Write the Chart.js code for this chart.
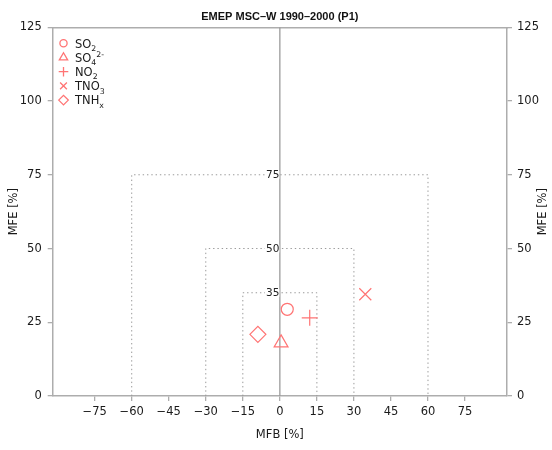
<!DOCTYPE html>
<html>
<head>
<meta charset="utf-8">
<script src="https://cdn.jsdelivr.net/npm/chart.js@4.4.1/dist/chart.umd.min.js"></script>
<style>
  html, body { margin: 0; padding: 0; background: #fff; }
  #wrap { width: 552px; height: 450px; }
</style>
</head>
<body>
<div id="wrap"><canvas id="canv"></canvas></div>
<script>
// MFB / MFE per species
var seriesNames = ['SO₂', 'SO₄²⁻', 'NO₂', 'TNO₃', 'TNHₓ'];
var seriesStyles = ['circle', 'triangle', 'cross', 'crossRot', 'rectRot'];
var seriesRadius = [6, 8, 8, 8.5, 8];
var mfbValues = [3.0, 0.5, 12.1, 34.6, -8.9];
var mfeValues = [29.4, 18.0, 26.5, 34.5, 20.9];

// goal / criteria boxes: MFE level and MFB half width
var goalLevels = [75, 50, 35];
var goalHalfWidths = [60, 30, 15];

var xTicks = [-75, -60, -45, -30, -15, 0, 15, 30, 45, 60, 75];
var yTicks = [0, 25, 50, 75, 100, 125];

var markColor = '#ff7474';
var axisColor = '#adadad';
var textColor = '#1a1a1a';
var baseFont = 'DejaVu Sans';

var datasets = [];
for (var i = 0; i < seriesNames.length; i++) {
  datasets.push({
    label: seriesNames[i],
    data: [{x: mfbValues[i], y: mfeValues[i]}],
    pointStyle: seriesStyles[i],
    pointRadius: seriesRadius[i],
    pointHoverRadius: seriesRadius[i],
    borderColor: markColor,
    backgroundColor: 'rgba(0,0,0,0)',
    borderWidth: 1.2
  });
}
for (var g = 0; g < goalLevels.length; g++) {
  var w = goalHalfWidths[g], h = goalLevels[g];
  datasets.push({
    label: 'goal' + h,
    data: [{x: -w, y: 0}, {x: -w, y: h}, {x: w, y: h}, {x: w, y: 0}],
    showLine: true,
    pointRadius: 0,
    borderColor: '#9a9a9a',
    borderWidth: 1,
    borderDash: [1.4, 2.9],
    fill: false
  });
}
datasets.push({
  label: 'zero',
  data: [{x: 0, y: yTicks[0]}, {x: 0, y: yTicks[yTicks.length - 1]}],
  showLine: true,
  pointRadius: 0,
  borderColor: '#9c9c9c',
  borderWidth: 1.3,
  fill: false
});

function fmt(v) {
  return v < 0 ? '\u2212' + Math.abs(v) : '' + v;
}

function fixedTicks(list) {
  return function(scale) {
    scale.ticks = list.map(function(v) { return {value: v}; });
  };
}

var subMap = {'₀':'0','₁':'1','₂':'2','₃':'3','₄':'4','₅':'5','₆':'6','₇':'7','₈':'8','₉':'9','ₓ':'x'};
var supMap = {'⁰':'0','¹':'1','²':'2','³':'3','⁴':'4','⁵':'5','⁶':'6','⁷':'7','⁸':'8','⁹':'9','⁻':'-'};

// draws a label with real sub- and superscripts
function drawRich(ctx, text, x, y, size) {
  var parts = [];
  for (var k = 0; k < text.length; k++) {
    var c = text[k];
    var kind = subMap[c] ? 'sub' : (supMap[c] ? 'sup' : 'base');
    var ch = subMap[c] || supMap[c] || c;
    if (parts.length && parts[parts.length - 1].kind === kind) parts[parts.length - 1].t += ch;
    else parts.push({kind: kind, t: ch});
  }
  ctx.textBaseline = 'alphabetic';
  ctx.textAlign = 'left';
  var cx = x;
  parts.forEach(function(p) {
    var s = p.kind === 'base' ? size : size * 0.68;
    var dy = p.kind === 'sub' ? size * 0.3 : (p.kind === 'sup' ? -size * 0.42 : 0);
    ctx.font = s + 'px "' + baseFont + '"';
    ctx.fillText(p.t, cx, y + dy);
    cx += ctx.measureText(p.t).width;
  });
}

var annotations = {
  id: 'annotations',
  afterDatasetsDraw: function(chart) {
    var ctx = chart.ctx;
    var xs = chart.scales.x, ys = chart.scales.y;
    var area = chart.chartArea;
    ctx.save();

    // goal labels next to the zero line
    ctx.font = '10.5px "' + baseFont + '"';
    ctx.textAlign = 'right';
    ctx.textBaseline = 'middle';
    goalLevels.forEach(function(lv) {
      var px = xs.getPixelForValue(0) - 0.5;
      var py = ys.getPixelForValue(lv);
      var tw = ctx.measureText('' + lv).width;
      ctx.fillStyle = '#fff';
      ctx.fillRect(px - tw - 1, py - 4, tw + 1, 8);
      ctx.fillStyle = '#222';
      ctx.fillText('' + lv, px, py + 0.5);
    });

    // legend in the top left corner
    for (var i = 0; i < seriesNames.length; i++) {
      var ly = 43.3 + i * 14.2;
      ctx.strokeStyle = markColor;
      ctx.fillStyle = 'rgba(0,0,0,0)';
      ctx.lineWidth = 1.3;
      Chart.helpers.drawPoint(ctx, {
        pointStyle: seriesStyles[i],
        radius: seriesStyles[i] === 'circle' ? 3.6 : 4.8,
        rotation: 0,
        borderWidth: 1.3
      }, 63.5, ly);
      ctx.fillStyle = textColor;
      drawRich(ctx, seriesNames[i], 75, ly + 4.2, 11.5);
    }

    // main title
    ctx.fillStyle = '#111';
    ctx.font = 'bold 11px "Liberation Sans"';
    ctx.textAlign = 'center';
    ctx.textBaseline = 'middle';
    var midX = (area.left + area.right) / 2;
    var midY = (area.top + area.bottom) / 2;
    ctx.fillText('EMEP MSC\u2013W 1990\u20132000 (P1)', midX, 16.5);

    // axis titles
    ctx.fillStyle = textColor;
    ctx.font = '11.5px "' + baseFont + '"';
    ctx.fillText('MFB [%]', midX, 435.5);
    [13.8, 543.5].forEach(function(tx) {
      ctx.save();
      ctx.translate(tx, midY);
      ctx.rotate(-Math.PI / 2);
      ctx.fillText('MFE [%]', 0, 0);
      ctx.restore();
    });
    ctx.restore();
  }
};

var tickFont = {family: baseFont, size: 11.5};
var edge = {color: axisColor, width: 1.5};
var marks = {drawOnChartArea: false, drawTicks: true, tickLength: 5, color: axisColor, lineWidth: 1.3};

var chart = new Chart(document.getElementById('canv'), {
  type: 'scatter',
  data: {datasets: datasets},
  options: {
    responsive: true,
    maintainAspectRatio: false,
    animation: false,
    layout: {padding: 0},
    plugins: {legend: {display: false}, tooltip: {enabled: false}, title: {display: false}},
    scales: {
      x: {
        type: 'linear', position: 'bottom', min: -92, max: 92,
        afterBuildTicks: fixedTicks(xTicks),
        afterFit: function(s) { s.height = 54; },
        ticks: {font: tickFont, color: textColor, padding: 4, callback: fmt, maxRotation: 0, autoSkip: false},
        grid: marks, border: edge
      },
      x2: {
        type: 'linear', position: 'top', min: -92, max: 92, display: true,
        afterFit: function(s) { s.height = 27.3; },
        ticks: {display: false},
        grid: {display: false, drawTicks: false},
        border: edge
      },
      y: {
        type: 'linear', position: 'left', min: 0, max: 125,
        afterBuildTicks: fixedTicks(yTicks),
        afterFit: function(s) { s.width = 52.7; },
        ticks: {font: tickFont, color: textColor, padding: 6, autoSkip: false},
        grid: marks, border: edge
      },
      y2: {
        type: 'linear', position: 'right', min: 0, max: 125, display: true,
        afterBuildTicks: fixedTicks(yTicks),
        afterFit: function(s) { s.width = 45; },
        ticks: {font: tickFont, color: textColor, padding: 5, autoSkip: false},
        grid: marks, border: edge
      }
    }
  },
  plugins: [annotations]
});
</script>
</body>
</html>
